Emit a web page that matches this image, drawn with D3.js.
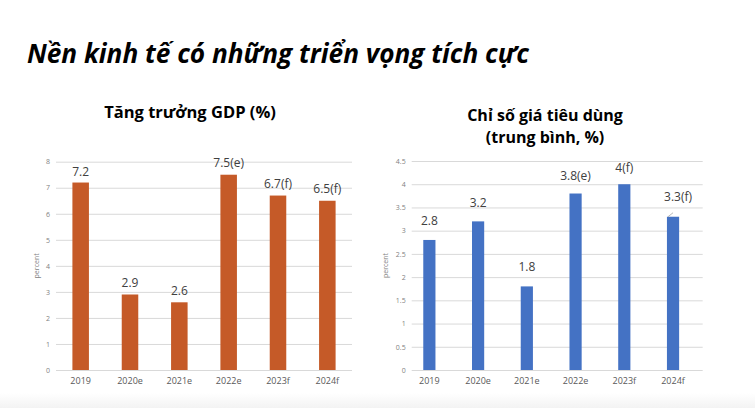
<!DOCTYPE html>
<html><head><meta charset="utf-8">
<script src="https://cdn.jsdelivr.net/npm/d3@7"></script>
<style>
html,body{margin:0;padding:0;background:#fff;}
svg{display:block;}
</style></head>
<body>
<svg id="c" width="755" height="408"></svg>
<script>
const categories = ["2019","2020e","2021e","2022e","2023f","2024f"];
const gdpValues = [7.2, 2.9, 2.6, 7.5, 6.7, 6.5];
const gdpLabels = ["7.2","2.9","2.6","7.5(e)","6.7(f)","6.5(f)"];
const gdpTicks = [0,1,2,3,4,5,6,7,8];
const cpiValues = [2.8, 3.2, 1.8, 3.8, 4.0, 3.3];
const cpiLabels = ["2.8","3.2","1.8","3.8(e)","4(f)","3.3(f)"];
const cpiTicks = [0,0.5,1,1.5,2,2.5,3,3.5,4,4.5];

const svg = d3.select("#c");
const FONT = "'Open Sans', 'Noto Sans', sans-serif";

// bottom shadow gradient
const defs = svg.append("defs");
const g = defs.append("linearGradient").attr("id","bot").attr("x1",0).attr("y1",0).attr("x2",0).attr("y2",1);
g.append("stop").attr("offset","0%").attr("stop-color","#ffffff");
g.append("stop").attr("offset","100%").attr("stop-color","#f3f3f3");
svg.append("rect").attr("x",0).attr("y",393).attr("width",755).attr("height",15).attr("fill","url(#bot)");

svg.append("text").attr("x",27).attr("y",63)
  .attr("font-family",FONT).attr("font-weight","bold").attr("font-style","italic")
  .attr("font-size",26.2).attr("fill","#000")
  .text("Nền kinh tế có những triển vọng tích cực");

function drawChart(o){
  const y = d3.scaleLinear().domain([0,o.max]).range([o.y0,o.y1]);
  const x = d3.scaleBand().domain(categories).range(o.xr).paddingInner(o.pad).paddingOuter(o.pad/2);
  const gr = svg.append("g");
  const ax = gr.append("g").attr("transform",`translate(${o.gx1},0)`)
    .call(d3.axisLeft(y).tickValues(o.ticks).tickSize(o.gx1-o.gx0).tickPadding(6).tickFormat(d=>String(d)));
  ax.select(".domain").remove();
  ax.selectAll(".tick line").attr("stroke","#d9d9d9").attr("stroke-width",1);
  ax.selectAll(".tick text").attr("fill","#7f7f7f").attr("font-size",7).attr("font-family",FONT);
  const cx = gr.append("g").attr("transform",`translate(0,${o.y0})`)
    .call(d3.axisBottom(x).tickSize(0).tickPadding(8));
  cx.select(".domain").remove();
  cx.selectAll(".tick text").attr("fill","#595959").attr("font-size",9).attr("font-family",FONT);
  gr.selectAll("rect.bar").data(o.values).join("rect").attr("class","bar")
    .attr("x",(d,i)=>x(categories[i])).attr("width",x.bandwidth())
    .attr("y",d=>y(d)).attr("height",d=>o.y0-y(d)).attr("fill",o.color);
  gr.selectAll("text.lbl").data(o.values).join("text").attr("class","lbl")
    .attr("x",(d,i)=>x(categories[i])+x.bandwidth()/2+(o.dx[i]||0))
    .attr("y",(d,i)=>y(d)-o.off[i])
    .attr("text-anchor","middle").attr("font-family",FONT).attr("font-size",12).attr("fill","#404040")
    .text((d,i)=>o.labels[i]);
  gr.append("text").attr("transform",`translate(${o.ytx},${(o.y0+o.y1)/2}) rotate(-90)`)
    .attr("text-anchor","middle").attr("font-family",FONT).attr("font-size",7).attr("fill","#7f7f7f")
    .text("percent");
  return {x,y};
}

const g1 = drawChart({max:8, y0:370, y1:161.7, xr:[56,352], pad:0.665, gx0:56, gx1:352,
  ticks:gdpTicks, values:gdpValues, labels:gdpLabels, color:"#C55A28",
  off:[7,7,7,8,8,8], dx:[0,0,0,0,0,0], ytx:39});
svg.append("text").attr("x",190).attr("y",118).attr("text-anchor","middle")
  .attr("font-family",FONT).attr("font-weight","bold").attr("font-size",16.5).attr("fill","#000")
  .text("Tăng trưởng GDP (%)");

const g2 = drawChart({max:4.5, y0:370, y1:161, xr:[405,697.4], pad:0.75, gx0:411.7, gx1:702.7,
  ticks:cpiTicks, values:cpiValues, labels:cpiLabels, color:"#4472C4",
  off:[15,14,15,14,12,16], dx:[0,0,0,0,0,5], ytx:388});
{
  const i = 5, xc = g2.x(categories[i]) + g2.x.bandwidth()/2, yt = g2.y(cpiValues[i]);
  svg.append("line").attr("x1",xc-5).attr("y1",yt).attr("x2",xc).attr("y2",yt-4)
    .attr("stroke","#a6a6a6").attr("stroke-width",0.8);
}
svg.append("text").attr("x",545).attr("y",121).attr("text-anchor","middle")
  .attr("font-family",FONT).attr("font-weight","bold").attr("font-size",16).attr("fill","#000")
  .text("Chỉ số giá tiêu dùng");
svg.append("text").attr("x",545).attr("y",142.5).attr("text-anchor","middle")
  .attr("font-family",FONT).attr("font-weight","bold").attr("font-size",16).attr("fill","#000")
  .text("(trung bình, %)");
</script>
</body></html>
